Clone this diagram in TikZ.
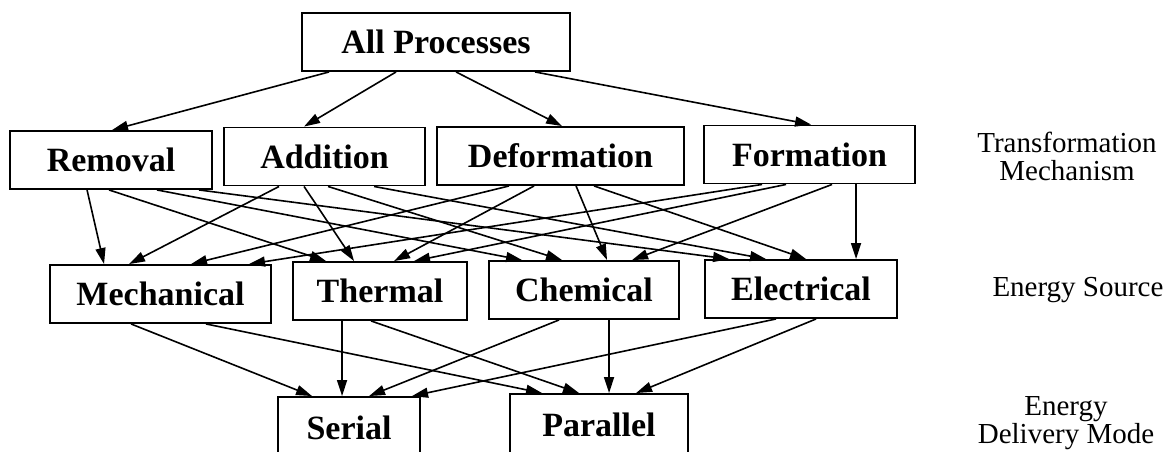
\documentclass[tikz,border=0pt]{standalone}
\usepackage{fontspec}
\setmainfont{Liberation Serif}
\usetikzlibrary{arrows.meta}
\tikzset{
  box/.style={draw, line width=1.9pt, inner sep=0pt, minimum height=58pt,
    font=\fontsize{34}{36}\selectfont\bfseries},
  tag/.style={align=center, inner sep=0pt,
    font=\fontsize{29}{28}\selectfont},
  arr/.style={line width=1.6pt, -{Triangle[length=16pt,width=10pt]}}
}
% #1 source, #2 offset from its left edge, #3 target, #4 offset from its left edge
\newcommand\link[4]{\draw[arr] ([xshift=#2]#1.south west) -- ([xshift=#4]#3.north west);}
\begin{document}
\begin{tikzpicture}[x=1pt,y=-1pt]
\useasboundingbox (0,0) rectangle (1170,451);
\clip (0,0) rectangle (1170,451);

% top
\node[box, minimum width=268pt] (ap) at (436,42) {All Processes};

% transformation mechanism
\node[box, minimum width=202pt] (rem) at (111,160) {Removal};
\node[box, minimum width=201pt] (add) at (324.5,156.5) {Addition};
\node[box, minimum width=247pt] (def) at (560.5,156) {Deformation};
\node[box, minimum width=211pt] (frm) at (809.5,154.5) {Formation};

% energy source
\node[box, minimum width=221pt] (mec) at (160.5,294) {Mechanical};
\node[box, minimum width=174pt] (the) at (380,291) {Thermal};
\node[box, minimum width=190pt] (che) at (584,290) {Chemical};
\node[box, minimum width=192pt] (ele) at (801,289) {Electrical};

% energy delivery mode
\node[box, minimum width=142pt, minimum height=62pt] (ser) at (349,428) {Serial};
\node[box, minimum width=178pt, minimum height=62pt] (par) at (599,425) {Parallel};

% level names
\node[tag] (t1) at (1067,156) {Transformation\\Mechanism};
\node[tag] (t2) at (1078,290) {Energy Source};
\node[tag] (t3) at (1066,423) {Energy\\Delivery Mode};

% all processes -> mechanisms
\link{ap}{28}{rem}{103}
\link{ap}{95}{add}{81}
\link{ap}{155}{def}{126}
\link{ap}{234}{frm}{108}

% mechanisms -> energy sources
\link{rem}{78}{mec}{55}
\link{rem}{100}{the}{34}
\link{rem}{148}{che}{34}
\link{rem}{190}{ele}{25}
\link{add}{56}{mec}{80}
\link{add}{81}{the}{62}
\link{add}{105}{che}{74}
\link{add}{151}{ele}{62}
\link{def}{73}{mec}{142}
\link{def}{98}{the}{102}
\link{def}{140}{che}{119}
\link{def}{158}{ele}{102}
\link{frm}{59}{mec}{200}
\link{frm}{83}{the}{122}
\link{frm}{129}{che}{144}
\link{frm}{153}{ele}{152}

% energy sources -> delivery modes
\link{mec}{82}{ser}{35}
\link{mec}{157}{par}{33}
\link{the}{50}{ser}{65}
\link{the}{79}{par}{70}
\link{che}{71}{ser}{92}
\link{che}{121}{par}{100}
\link{ele}{72}{ser}{135}
\link{ele}{112}{par}{127}
\end{tikzpicture}
\end{document}
